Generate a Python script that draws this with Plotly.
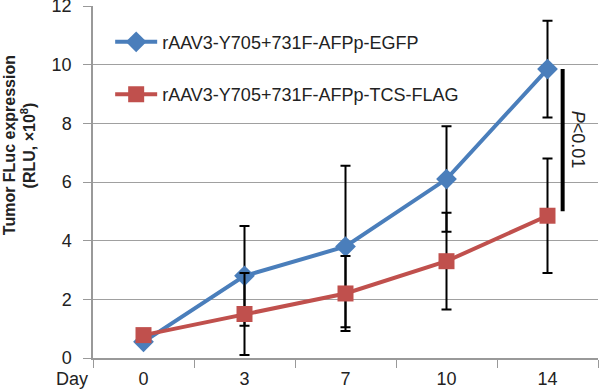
import plotly.graph_objects as go

days = ["0", "3", "7", "10", "14"]
egfp = [0.55, 2.8, 3.8, 6.1, 9.85]
egfp_err = [0.1, 1.7, 2.75, 1.8, 1.65]
tcs = [0.78, 1.5, 2.2, 3.3, 4.85]
tcs_err = [0.1, 1.4, 1.28, 1.65, 1.95]
names = ["rAAV3-Y705+731F-AFPp-EGFP", "rAAV3-Y705+731F-AFPp-TCS-FLAG"]
p_text = "<i>P</i><0.01"
y_title = ["<b>Tumor FLuc expression</b>", "<b>(RLU, ×10<sup>8</sup>)</b>"]

blue = "#4A7EBB"
red = "#C0504D"
txt = "#222222"

fig = go.Figure()
fig.add_trace(go.Scatter(
    x=days, y=egfp, name=names[0], mode="lines+markers", legendgroup="a",
    line=dict(color=blue, width=4),
    marker=dict(symbol="diamond", size=16, color=blue),
    error_y=dict(type="data", array=egfp_err, color="black", thickness=2, width=5),
))
fig.add_trace(go.Scatter(
    x=days, y=tcs, name=names[1], mode="lines+markers", legendgroup="b",
    line=dict(color=red, width=4),
    marker=dict(symbol="square", size=16, color=red),
    error_y=dict(type="data", array=tcs_err, color="black", thickness=2, width=5),
))

# significance bar between the day-14 means
fig.add_shape(type="line", xref="x", yref="y", x0=4.15, x1=4.15,
              y0=tcs[-1] + 0.15, y1=egfp[-1], line=dict(color="black", width=4))
fig.add_annotation(x=4.3, y=(tcs[-1] + egfp[-1]) / 2 + 0.1, xref="x", yref="y",
                   text=p_text, textangle=90, showarrow=False,
                   font=dict(size=18, color=txt, family="Arial"))
fig.add_annotation(x=-0.042, y=-0.06, xref="paper", yref="paper", text="Day",
                   showarrow=False, xanchor="center", yanchor="middle",
                   font=dict(size=18, color=txt, family="Arial"))
for xp, t in zip([-0.166, -0.128], y_title):
    fig.add_annotation(x=xp, y=0.605, xref="paper", yref="paper", text=t,
                       textangle=-90, showarrow=False, xanchor="center", yanchor="middle",
                       font=dict(size=16, color=txt, family="Arial"))

fig.update_layout(
    width=600, height=389,
    margin=dict(l=93, r=2, t=6, b=31),
    plot_bgcolor="white", paper_bgcolor="white",
    font=dict(family="Arial", color=txt),
    showlegend=True,
    legend=dict(x=0.034, y=0.95, xanchor="left", yanchor="top",
                font=dict(size=18, color=txt), tracegroupgap=26, itemwidth=42,
                bgcolor="rgba(255,255,255,0)", traceorder="grouped"),
    xaxis=dict(type="category", range=[-0.5, 4.5], tickson="boundaries",
               ticks="outside", ticklen=8, tickcolor="#999", showline=True,
               linecolor="#999", linewidth=1.5, showgrid=False, automargin=False,
               ticklabelstandoff=4, ticklabeloverflow="allow",
               tickfont=dict(size=18, color=txt)),
    yaxis=dict(range=[0, 12], dtick=2, ticks="outside", ticklen=8, tickcolor="#999",
               showline=True, linecolor="#999", linewidth=1.5, automargin=False,
               showgrid=True, gridcolor="#A0A0A0", gridwidth=1, zeroline=False,
               ticklabelstandoff=8, ticklabeloverflow="allow",
               tickfont=dict(size=18, color=txt)),
)

fig.write_html("out.html", config={"displayModeBar": False},
               post_script="document.body.style.margin='0';document.body.style.overflow='hidden';")
